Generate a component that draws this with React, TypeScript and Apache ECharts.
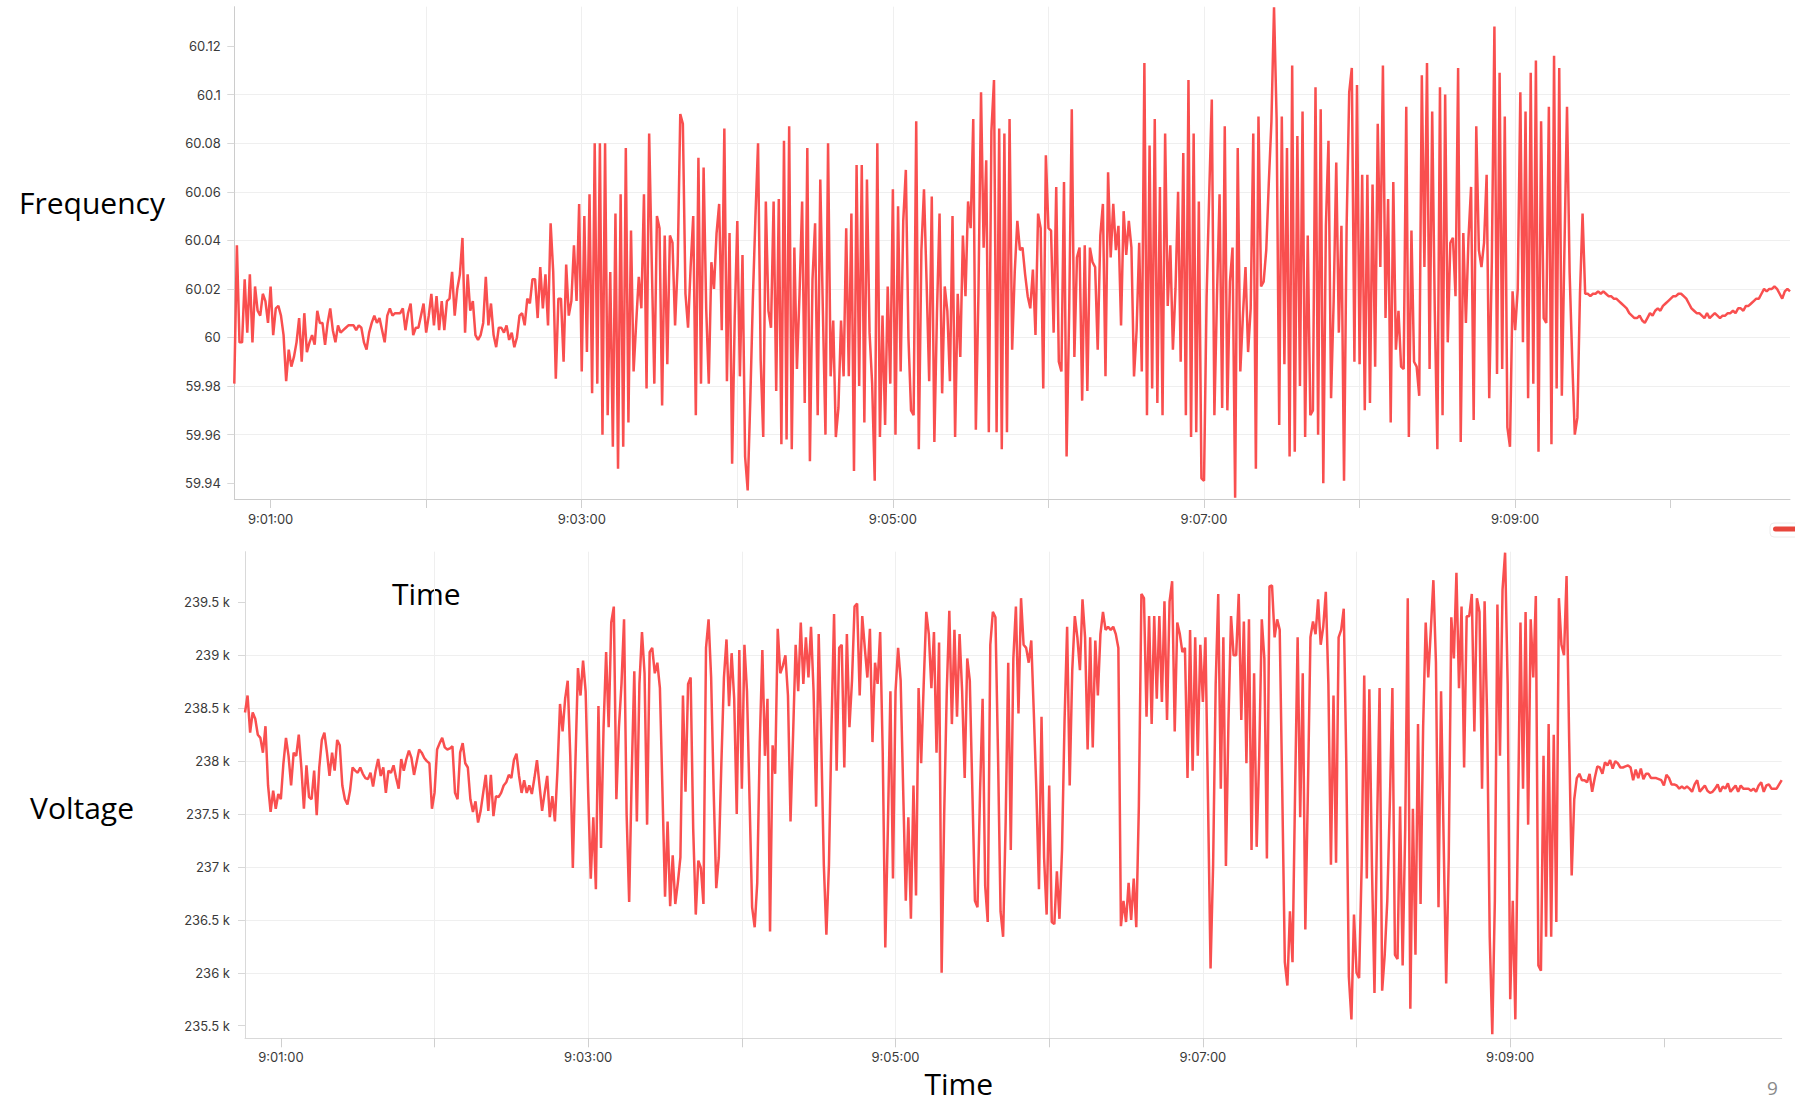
import React, { useEffect, useRef } from "react";
import * as echarts from "echarts";

// ---------- axes / ticks ----------
const START_TIME = "9:00:46";
const END_TIME = "9:10:46";
const SAMPLE_SECONDS = 1;
const X_TICKS = ["9:01:00", "9:02:00", "9:03:00", "9:04:00", "9:05:00", "9:06:00", "9:07:00", "9:08:00", "9:09:00", "9:10:00"];
const X_LABELS = ["9:01:00", "9:03:00", "9:05:00", "9:07:00", "9:09:00"];
const FREQ_TICKS = [59.94, 59.96, 59.98, 60, 60.02, 60.04, 60.06, 60.08, 60.1, 60.12];
const VOLT_TICKS = [235.5, 236, 236.5, 237, 237.5, 238, 238.5, 239, 239.5];
const FREQ_RANGE = [59.9335, 60.1362];
const VOLT_RANGE = [235.381, 239.979];

// ---------- frequency (Hz), one reading per second ----------
const FREQ_CALM_START = [
  59.981, 60.038, 59.998, 59.998, 60.024, 60.002, 60.026, 59.998, 60.021, 60.011,
  60.009, 60.018, 60.015, 60.006, 60.021, 60.001, 60.012, 60.013, 60.009, 60.001,
  59.982, 59.995, 59.988, 59.992, 59.998, 60.008, 59.990, 60.010, 59.994, 59.998,
  60.001, 59.997, 60.011, 60.006, 60.006, 59.997, 60.006, 60.012, 60.003, 59.998,
  60.005, 60.002, 60.003, 60.004, 60.005, 60.005, 60.005, 60.003, 60.005, 60.004,
  59.998, 59.995, 60.002, 60.006, 60.009, 60.006, 60.008, 60.003, 59.998, 60.009,
  60.012, 60.009, 60.010, 60.010, 60.010, 60.012, 60.003, 60.010, 60.014, 60.001,
  60.004, 60.004, 60.009, 60.014, 60.002, 60.009, 60.018, 60.005, 60.017, 60.003,
  60.015, 60.003, 60.015, 60.016, 60.027, 60.009, 60.020, 60.026, 60.041, 60.002,
  60.026, 60.011, 60.015, 60.001, 59.999, 60.001, 60.006, 60.025, 60.005, 60.014,
  60.001, 59.996, 60.004, 60.004, 60.002, 60.005, 59.999, 60.002, 59.996, 60.000,
  60.009, 60.010, 60.005, 60.016, 60.014, 60.024, 60.024, 60.008, 60.029, 60.012,
  60.026, 60.005, 60.047, 60.027, 59.983, 60.016, 60.016, 59.990, 60.030, 60.009,
  60.015, 60.038, 60.015, 60.055, 59.986, 60.050, 59.994, 60.059, 59.977, 60.080,
  59.981,
];

const FREQ_SWING_A = [
  60.080, 59.960, 60.080, 59.968, 60.027, 59.955, 60.051, 59.946, 60.059, 59.955,
  60.078, 59.965, 60.044, 59.986, 60.006, 60.025, 60.012, 60.059, 59.979, 60.084, 60.031,
  59.981, 60.050, 60.045, 59.972, 60.042, 59.989, 60.042, 60.039, 60.005, 60.030,
  60.092, 60.088, 60.018, 60.004, 60.029, 60.050, 59.968, 60.074, 59.981, 60.070, 60.012,
  59.981, 60.031, 60.020, 60.043, 60.055, 60.003, 60.086, 59.982, 60.043, 59.948,
  60.008, 60.048, 59.984, 60.034, 59.951, 59.937, 59.974, 60.016, 60.050, 60.080, 59.991,
  59.959, 60.056, 60.011, 60.004, 60.056, 59.978, 60.057, 59.956, 60.081, 59.958,
  60.087, 59.954, 60.037, 59.987, 60.018, 60.056, 59.973, 60.078, 59.949, 60.024, 60.047,
  59.968, 60.065, 60.011, 59.960, 60.080, 59.984, 60.007, 59.959, 59.971, 60.007,
  59.984, 60.045, 59.984, 60.051, 59.945, 60.071, 59.980, 60.071, 59.965, 60.065, 60.002,
  59.981, 59.941, 60.080, 59.959, 60.009, 59.964, 60.021, 59.981, 60.061, 59.960,
  60.054, 59.986, 60.048, 60.069, 60.000, 59.970, 59.968, 60.089, 59.954, 60.036, 60.061,
  60.023, 59.982, 60.058, 59.957, 60.010, 60.051, 59.977, 60.021, 60.011, 59.982,
  60.050, 59.959, 60.018, 59.992, 60.042, 60.017, 60.056, 60.045, 60.090, 59.962, 60.018,
  60.101, 60.037, 60.073, 59.961, 60.085, 60.106, 59.961, 60.086, 59.954, 60.084,
  59.961, 60.090, 59.995, 60.027, 60.048, 60.036, 60.037, 60.026, 60.017, 60.012, 60.028,
  60.001, 60.051, 60.045, 59.979, 60.075, 60.045, 60.044, 60.002, 60.062, 59.990,
  59.986, 60.064, 59.951, 60.011, 60.094, 59.992, 60.033, 60.037, 59.974, 60.038, 59.978,
  60.037, 60.031, 60.029, 59.995, 60.042, 60.055, 59.984, 60.068, 60.033, 60.055,
  60.036, 60.046, 60.005, 60.052, 60.034, 60.048, 60.037, 59.984, 60.003, 60.039, 59.986,
  60.113, 59.968, 60.079, 59.979, 60.090, 59.973, 60.062, 59.968, 60.084, 60.013,
  60.038, 59.995, 60.020, 60.060, 59.990, 60.076, 59.968, 60.106, 59.959, 60.084,
  59.961,
];

const FREQ_SWING_B = [
  60.056, 59.942, 59.941, 60.017, 60.059, 60.098, 59.968, 60.017, 60.059, 59.971,
  60.087, 59.970, 60.023, 60.037, 59.934, 60.078, 59.986, 60.009, 60.029, 59.994, 60.012,
  60.084, 59.946, 60.091, 60.021, 60.023, 60.036, 60.064, 60.089, 60.136, 60.090,
  59.964, 60.091, 59.989, 60.078, 59.951, 60.112, 59.953, 60.083, 59.980, 60.093,
  59.959, 60.042, 59.968, 59.970, 60.103, 59.960, 60.094, 59.940, 60.046, 60.081, 59.975,
  60.015, 60.072, 60.002, 60.046, 59.941, 60.046, 60.101, 60.111, 59.990, 60.104,
  59.989, 60.067, 59.970, 60.067, 59.973, 60.063, 59.988, 60.088, 60.029, 60.112,
  60.008, 60.057, 59.965, 60.064, 59.995, 60.011, 59.988, 59.987, 60.095, 59.959, 60.044,
  59.990, 59.988, 59.976, 60.108, 60.029, 60.113, 59.987, 60.093, 60.011, 59.954,
  60.103, 59.968, 60.100, 59.998, 60.039, 60.041, 60.017, 60.111, 59.957, 60.043,
  60.006, 60.041, 60.062, 59.966, 60.087, 60.036, 60.029, 60.039, 60.067, 59.975, 60.031,
  60.128, 59.985, 60.109, 59.987, 60.091, 59.963, 59.955, 60.019, 60.003, 60.020,
  60.101, 59.998, 60.093, 59.975, 60.109, 59.981, 60.114, 59.953, 60.089, 60.008,
  60.006, 60.095, 59.956, 60.116, 59.979, 60.111, 59.976, 60.036, 60.095, 60.027, 59.991,
  59.960, 59.967, 60.018, 60.051, 60.018,
];

const FREQ_CALM_END = [
  60.018, 60.017, 60.018, 60.018, 60.019, 60.018, 60.019, 60.018, 60.017, 60.017,
  60.016, 60.016, 60.015, 60.014, 60.013, 60.012, 60.010, 60.009, 60.008, 60.008,
  60.009, 60.007, 60.006, 60.008, 60.010, 60.009, 60.011, 60.012, 60.011, 60.013,
  60.014, 60.015, 60.016, 60.017, 60.017, 60.018, 60.018, 60.017, 60.016, 60.014,
  60.012, 60.011, 60.010, 60.010, 60.009, 60.008, 60.010, 60.008,
  60.009, 60.010, 60.009, 60.008, 60.009, 60.009, 60.010, 60.010, 60.011, 60.010,
  60.012, 60.012, 60.011, 60.013, 60.013, 60.014, 60.015, 60.016, 60.016, 60.018,
  60.020, 60.019, 60.020, 60.020, 60.021, 60.020, 60.018, 60.016, 60.019, 60.020,
  60.019,
];

// ---------- voltage (k), one reading per second ----------
const VOLT_CALM_START = [
  238.46, 238.62, 238.27, 238.46, 238.40, 238.25, 238.22, 238.08, 238.33, 237.77,
  237.52, 237.72, 237.55, 237.69, 237.64, 237.98, 238.22, 238.05, 237.77, 238.08,
  238.05, 238.25, 237.94, 237.55, 237.96, 237.66, 237.64, 237.91, 237.49, 237.94,
  238.20, 238.27, 238.08, 237.86, 238.08, 237.91, 238.20, 238.15, 237.77, 237.64,
  237.59, 237.72, 237.94, 237.91, 237.89, 237.94, 237.88, 237.84, 237.83, 237.89,
  237.76, 237.91, 238.02, 237.86, 237.94, 237.70, 237.91, 237.89, 237.96, 237.84,
  237.74, 238.02, 237.91, 238.02, 238.10, 238.03, 237.87, 237.99, 238.11, 238.08,
  238.03, 238.00, 237.98, 237.55, 237.70, 238.11, 238.17, 238.22, 238.13, 238.11,
  238.12, 238.14, 237.70, 237.64, 238.08, 238.17, 237.98, 237.94, 237.64, 237.52,
  237.62, 237.42, 237.53, 237.70, 237.87, 237.53, 237.87, 237.48, 237.67, 237.66,
  237.70, 237.77, 237.80, 237.87, 237.84, 238.01, 238.07, 237.86, 237.70, 237.82,
  237.70, 237.77, 237.69, 237.84, 238.01, 237.77, 237.53, 237.70, 237.86, 237.47,
  237.67, 237.43, 237.91, 238.54, 238.28, 238.59, 238.76, 238.05, 236.99, 237.98,
  238.88, 238.62, 238.95, 238.66, 237.70, 236.89, 237.47, 236.79,
];

const VOLT_SWING_A = [
  238.52, 237.18, 238.32, 239.03, 238.32, 239.31, 239.46, 237.64, 238.32, 238.73,
  239.34, 237.50, 236.67, 237.88, 238.85, 237.43, 238.73, 239.22, 238.83, 237.40,
  239.03, 239.07, 238.83, 238.93, 238.69, 237.71, 236.72, 237.43, 236.63, 237.11,
  236.65, 236.85, 237.09, 238.62, 237.71, 238.73, 238.79, 237.36, 236.55, 237.06,
  236.99, 236.65, 239.07, 239.34, 238.79, 237.71, 236.80, 237.09, 237.98, 238.79,
  239.15, 238.52, 239.02, 238.59, 237.50, 239.05, 237.74, 239.10, 238.66, 237.64,
  236.62, 236.43, 236.85, 238.18, 239.05, 238.05, 238.59, 236.39, 238.15, 237.88,
  239.25, 238.83, 238.90, 239.00, 238.62, 237.43, 238.25, 239.10, 238.66, 239.31,
  238.73, 239.17, 238.79, 239.27, 238.66, 237.57, 239.20, 238.18, 237.02, 236.36,
  237.02, 238.32, 239.39, 237.91, 239.07, 239.10, 237.94, 239.20, 238.32, 238.76,
  239.46, 239.49, 238.62, 239.37, 239.07, 238.79, 239.25, 238.18, 238.93, 238.73,
  239.22, 238.08, 236.24, 237.36, 238.66, 236.89, 238.66, 239.07, 238.76, 237.71,
  236.68, 237.47, 236.51, 237.77, 236.73, 238.69, 237.98, 238.73, 239.41, 239.20,
  238.69, 239.22, 238.08, 239.12, 236.00, 237.50, 238.66, 239.42, 238.35, 239.24,
  238.42, 239.20, 238.66, 237.84, 238.97, 238.76, 237.71, 236.68, 236.62, 237.71,
  238.59, 236.82, 236.48, 239.10, 239.41, 239.36, 238.08, 236.58, 236.34, 237.43,
  238.93, 237.16, 238.97, 239.46, 238.45, 239.54, 239.10, 239.07, 238.93, 239.14,
  238.45, 237.71, 236.79, 238.42, 237.09, 236.55, 237.77, 236.48, 236.46, 236.96,
  236.51, 237.16, 238.39, 239.27, 237.77, 238.86, 239.37, 239.17, 238.86, 239.53,
  239.17, 238.11, 239.17, 238.13, 239.14, 238.62, 239.20, 239.41, 239.24, 239.27,
  239.24, 239.27, 239.20, 239.07, 236.44, 236.68, 236.48, 236.85, 236.50, 236.89,
  236.43, 237.57, 239.58, 239.54, 238.42, 239.37, 238.35, 239.37, 238.59, 239.37,
  238.56, 239.51, 238.39, 239.51, 239.70, 238.28, 239.31, 239.20, 239.03, 239.07,
  237.84, 239.24, 237.91, 239.17, 238.05,
];

const VOLT_SWING_B = [
  239.10, 238.56, 239.17, 237.64, 236.04, 237.02, 238.73, 239.58, 237.74, 239.17,
  237.01, 238.39, 239.37, 239.00, 239.00, 239.58, 238.39, 239.32, 237.98, 239.34,
  237.16, 238.83, 237.19, 238.05, 239.34, 238.97, 237.08, 239.65, 239.66, 239.17,
  239.34, 239.24, 237.71, 236.10, 235.88, 236.58, 236.10, 237.71, 239.17, 237.47,
  238.83, 236.41, 237.71, 239.17, 239.32, 239.20, 239.53, 239.10, 239.27, 239.60,
  238.73, 237.02, 238.62, 237.04, 239.17, 239.24, 239.44, 237.98, 235.96, 235.56,
  236.55, 236.00, 235.95, 237.02, 238.81, 236.89, 238.68, 237.02, 235.81, 237.36,
  238.69, 235.83, 236.17, 236.68, 237.60, 238.69, 236.17, 236.13, 237.57, 236.07,
  237.36, 239.54, 235.66, 237.55, 236.17, 238.35, 236.65, 238.32, 239.31, 238.79,
  239.24, 239.71, 238.93, 236.62, 238.66, 237.26, 235.90, 237.09, 239.36, 238.97,
  239.78, 238.69, 239.46, 237.94, 239.37, 239.37, 239.58, 238.28, 239.54, 239.41,
  237.74, 239.51, 238.39, 236.34, 235.42, 236.68, 239.48, 238.05, 239.62, 239.97,
  238.73, 235.75, 236.68, 235.56, 237.40, 239.31, 237.74, 239.41, 237.40, 239.34,
  238.79, 239.56, 236.07, 236.02, 238.05, 236.34, 238.35, 236.34, 238.25, 236.48,
  239.54, 239.10, 239.00, 239.75, 238.22, 236.92, 237.64, 237.84, 237.88,
];

const VOLT_CALM_END = [
  237.82, 237.82, 237.80, 237.88, 237.71, 237.84, 237.95, 237.94, 237.88, 237.99,
  237.96, 238.01, 237.93, 238.00, 237.98, 237.94, 237.94, 237.95, 237.96, 237.94,
  237.82, 237.92, 237.84, 237.93, 237.83, 237.88, 237.88, 237.84, 237.84, 237.84,
  237.83, 237.82, 237.77, 237.87, 237.84, 237.78, 237.78, 237.77, 237.74, 237.76,
  237.74, 237.76, 237.74, 237.71, 237.78, 237.82, 237.71, 237.74, 237.77, 237.72,
  237.70, 237.71, 237.74, 237.78, 237.71, 237.76, 237.74, 237.79, 237.71, 237.74,
  237.77, 237.71, 237.77, 237.74, 237.74, 237.74, 237.72, 237.74, 237.71, 237.77,
  237.80, 237.71, 237.77, 237.78, 237.74, 237.74, 237.74, 237.78, 237.82,
];

// ---------- helpers ----------
const toMs = (s: string) => {
  const [h, m, sec] = s.split(":").map(Number);
  return new Date(2024, 0, 1, h, m, sec).getTime();
};
const pad2 = (n: number) => String(n).padStart(2, "0");
const fmtTime = (v: number) => {
  const d = new Date(v);
  return `${d.getHours()}:${pad2(d.getMinutes())}:${pad2(d.getSeconds())}`;
};

const LINE_COLOR = "#f94f4f";
const LABEL_FONT = { color: "#3a3a3a", fontFamily: "Inter", fontSize: 13 };

export default function App() {
  const ref = useRef<HTMLDivElement>(null);

  useEffect(() => {
    if (!ref.current) return;
    const chart = echarts.init(ref.current, undefined, { renderer: "svg" });

    const t0 = toMs(START_TIME);
    const t1 = toMs(END_TIME);
    const step = SAMPLE_SECONDS * 1000;
    const freq = [...FREQ_CALM_START, ...FREQ_SWING_A, ...FREQ_SWING_B, ...FREQ_CALM_END];
    const volt = [...VOLT_CALM_START, ...VOLT_SWING_A, ...VOLT_SWING_B, ...VOLT_CALM_END];
    const freqData = freq.map((v, i) => [t0 + i * step, v]);
    const voltData = volt.map((v, i) => [t0 + i * step, v]);
    const xTickVals = X_TICKS.map(toMs);
    const xLabelVals = X_LABELS.map(toMs);

    const makeX = (gi: number, axisColor: string, margin: number) => ({
      type: "value",
      gridIndex: gi,
      min: t0,
      max: t1,
      axisLine: { show: true, lineStyle: { color: axisColor, width: 1 } },
      axisTick: { show: true, length: 9, lineStyle: { color: "#cfcfcf" }, customValues: xTickVals },
      axisLabel: { ...LABEL_FONT, margin, customValues: xLabelVals, formatter: fmtTime },
      splitLine: { show: true, showMinLine: false, showMaxLine: false, lineStyle: { color: "#efefef", width: 1 } },
    });

    const makeY = (gi: number, range: number[], ticks: number[], fmt: (v: number) => string, axisColor: string, margin: number) => ({
      type: "value",
      gridIndex: gi,
      min: range[0],
      max: range[1],
      axisLine: { show: true, lineStyle: { color: axisColor, width: 1 } },
      axisTick: { show: true, length: 7, lineStyle: { color: "#d8d8d8" }, customValues: ticks },
      axisLabel: { ...LABEL_FONT, margin, customValues: ticks, formatter: fmt },
      splitLine: { show: true, showMinLine: false, showMaxLine: false, lineStyle: { color: "#efefef", width: 1 } },
    });

    const titleStyle = (text: string) => ({
      text,
      fontFamily: "Open Sans",
      fontSize: 30,
      fill: "#000000",
      align: "left",
      verticalAlign: "middle",
    });

    chart.setOption({
      animation: false,
      grid: [
        { left: 234.3, top: 6.7, width: 1555.7, height: 492.3, containLabel: false, outerBoundsMode: "none" },
        { left: 245, top: 551.7, width: 1536.7, height: 486.6, containLabel: false, outerBoundsMode: "none" },
      ],
      xAxis: [makeX(0, "#cccccc", 13), makeX(1, "#d9d9d9", 12)],
      yAxis: [
        makeY(0, FREQ_RANGE, FREQ_TICKS, (v: number) => `${parseFloat(v.toFixed(3))}`, "#cccccc", 13.5),
        makeY(1, VOLT_RANGE, VOLT_TICKS, (v: number) => `${parseFloat(v.toFixed(2))} k`, "#d9d9d9", 15),
      ],
      series: [
        {
          type: "line",
          xAxisIndex: 0,
          yAxisIndex: 0,
          data: freqData,
          showSymbol: false,
          symbol: "none",
          lineStyle: { color: LINE_COLOR, width: 2.5 },
          itemStyle: { color: LINE_COLOR },
        },
        {
          type: "line",
          xAxisIndex: 1,
          yAxisIndex: 1,
          data: voltData,
          showSymbol: false,
          symbol: "none",
          lineStyle: { color: LINE_COLOR, width: 2.5 },
          itemStyle: { color: LINE_COLOR },
        },
      ],
      graphic: [
        { type: "text", x: 19, y: 202.5, style: titleStyle("Frequency") },
        { type: "text", x: 30, y: 807, style: titleStyle("Voltage") },
        { type: "text", x: 392, y: 593, style: titleStyle("Time") },
        { type: "text", x: 924.5, y: 1083, style: titleStyle("Time") },
        {
          type: "text",
          x: 1767,
          y: 1088,
          style: { text: "9", fontFamily: "Open Sans", fontSize: 19, fill: "#8a8a8a", align: "left", verticalAlign: "middle" },
        },
        { type: "rect", shape: { x: 1770, y: 523, width: 40, height: 14, r: 4 }, style: { fill: "#ffffff", stroke: "#ececec", lineWidth: 1 } },
        { type: "rect", shape: { x: 1773, y: 526.5, width: 30, height: 5, r: 2.5 }, style: { fill: "#e8463c" } },
      ],
    });

    return () => chart.dispose();
  }, []);

  return <div ref={ref} style={{ position: "absolute", left: 0, top: 0, width: 1795, height: 1105 }} />;
}
